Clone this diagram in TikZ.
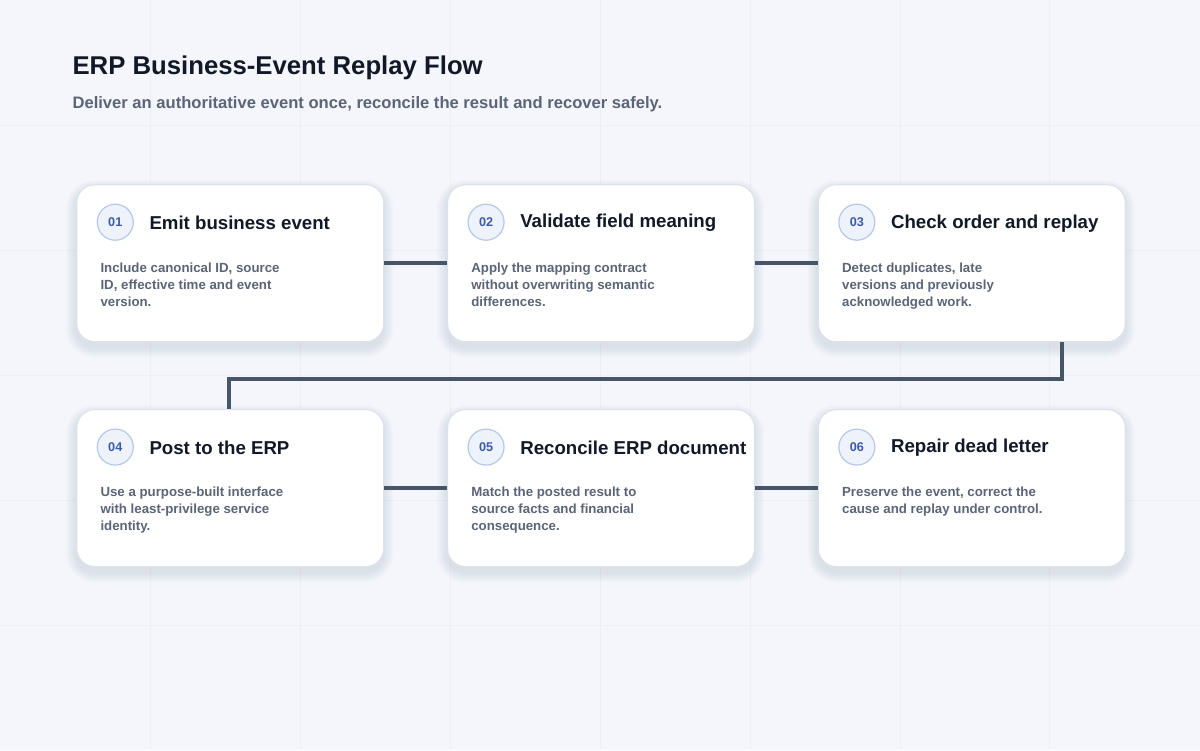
\documentclass[tikz,border=0pt]{standalone}
\usepackage{fontspec}
\setmainfont{Liberation Sans}
\definecolor{bg}{HTML}{F4F6FB}
\definecolor{gridc}{HTML}{ECEFF5}
\definecolor{ink}{HTML}{111827}
\definecolor{sub}{HTML}{5B6577}
\definecolor{body}{HTML}{5B6577}
\definecolor{line}{HTML}{475569}
\definecolor{numfill}{HTML}{EEF3FB}
\definecolor{numdraw}{HTML}{B5C8E8}
\definecolor{numtext}{HTML}{3B5BA8}
\definecolor{cardedge}{HTML}{DCE2EC}
\definecolor{shad}{HTML}{64748B}
\begin{document}
\begin{tikzpicture}[x=0.75pt,y=-0.75pt,
  card/.style={draw=cardedge,line width=0.8pt,fill=white,rounded corners=13.5pt,minimum width=230.25pt,minimum height=117.75pt,anchor=north west},
  num/.style={circle,draw=numdraw,line width=0.9pt,fill=numfill,minimum size=27pt,inner sep=0pt,font=\bfseries\fontsize{9.5}{10}\selectfont,text=numtext},
  ttl/.style={anchor=west,font=\bfseries\fontsize{14}{15}\selectfont,text=ink,inner sep=0pt},
  txt/.style={anchor=north west,align=left,font=\bfseries\fontsize{9.95}{12.75}\selectfont,text=body,inner sep=0pt},
  conn/.style={draw=line,line width=3pt}]
\fill[bg] (0,0) rectangle (1200,750);
\foreach \x in {150,300,450,600,750,900,1050} \draw[gridc,line width=0.5pt] (\x,0)--(\x,750);
\foreach \y in {125,250,375,500,625} \draw[gridc,line width=0.5pt] (0,\y)--(1200,\y);
\node[anchor=west,inner sep=0pt,font=\bfseries\fontsize{19.3}{22}\selectfont,text=ink] (title) at (72,68) {ERP Business-Event Replay Flow};
\node[anchor=west,inner sep=0pt,font=\bfseries\fontsize{12.45}{14}\selectfont,text=sub] (subt) at (72,104) {Deliver an authoritative event once, reconcile the result and recover safely.};
\newcommand{\mkcard}[6]{%
 \foreach \s in {1,...,10} {\fill[shad,opacity=0.014,rounded corners=13.5pt+0.75pt*\s] (#2-\s,#3+6-\s) rectangle (#2+307+\s,#3+157+6+\s);}
 \node[card] (c#1) at (#2,#3) {};
 \node[num] (n#1) at (#2+39,#3+38) {#4};
 \node[ttl] (t#1) at (#2+73,#3+39) {#5};
 \node[txt] (b#1) at (#2+24,#3+78) {#6};}
\mkcard{1}{76}{184}{01}{Emit business event}{Include canonical ID, source\\ID, effective time and event\\version.}
\mkcard{2}{447}{184}{02}{Validate field meaning}{Apply the mapping contract\\without overwriting semantic\\differences.}
\mkcard{3}{818}{184}{03}{Check order and replay}{Detect duplicates, late\\versions and previously\\acknowledged work.}
\mkcard{4}{76}{409}{04}{Post to the ERP}{Use a purpose-built interface\\with least-privilege service\\identity.}
\mkcard{5}{447}{409}{05}{Reconcile ERP document}{Match the posted result to\\source facts and financial\\consequence.}
\mkcard{6}{818}{409}{06}{Repair dead letter}{Preserve the event, correct the\\cause and replay under control.}
\draw[conn] (c1.east) -- (c2.west);
\draw[conn] (c2.east) -- (c3.west);
\draw[conn] (c4.east) -- (c5.west);
\draw[conn] (c5.east) -- (c6.west);
\coordinate (k1) at (1062,379);
\coordinate (k2) at (229,379);
\draw[conn] (c3.south -| k1) -- (k1) -- (k2) -- (c4.north -| k2);
\end{tikzpicture}
\end{document}
